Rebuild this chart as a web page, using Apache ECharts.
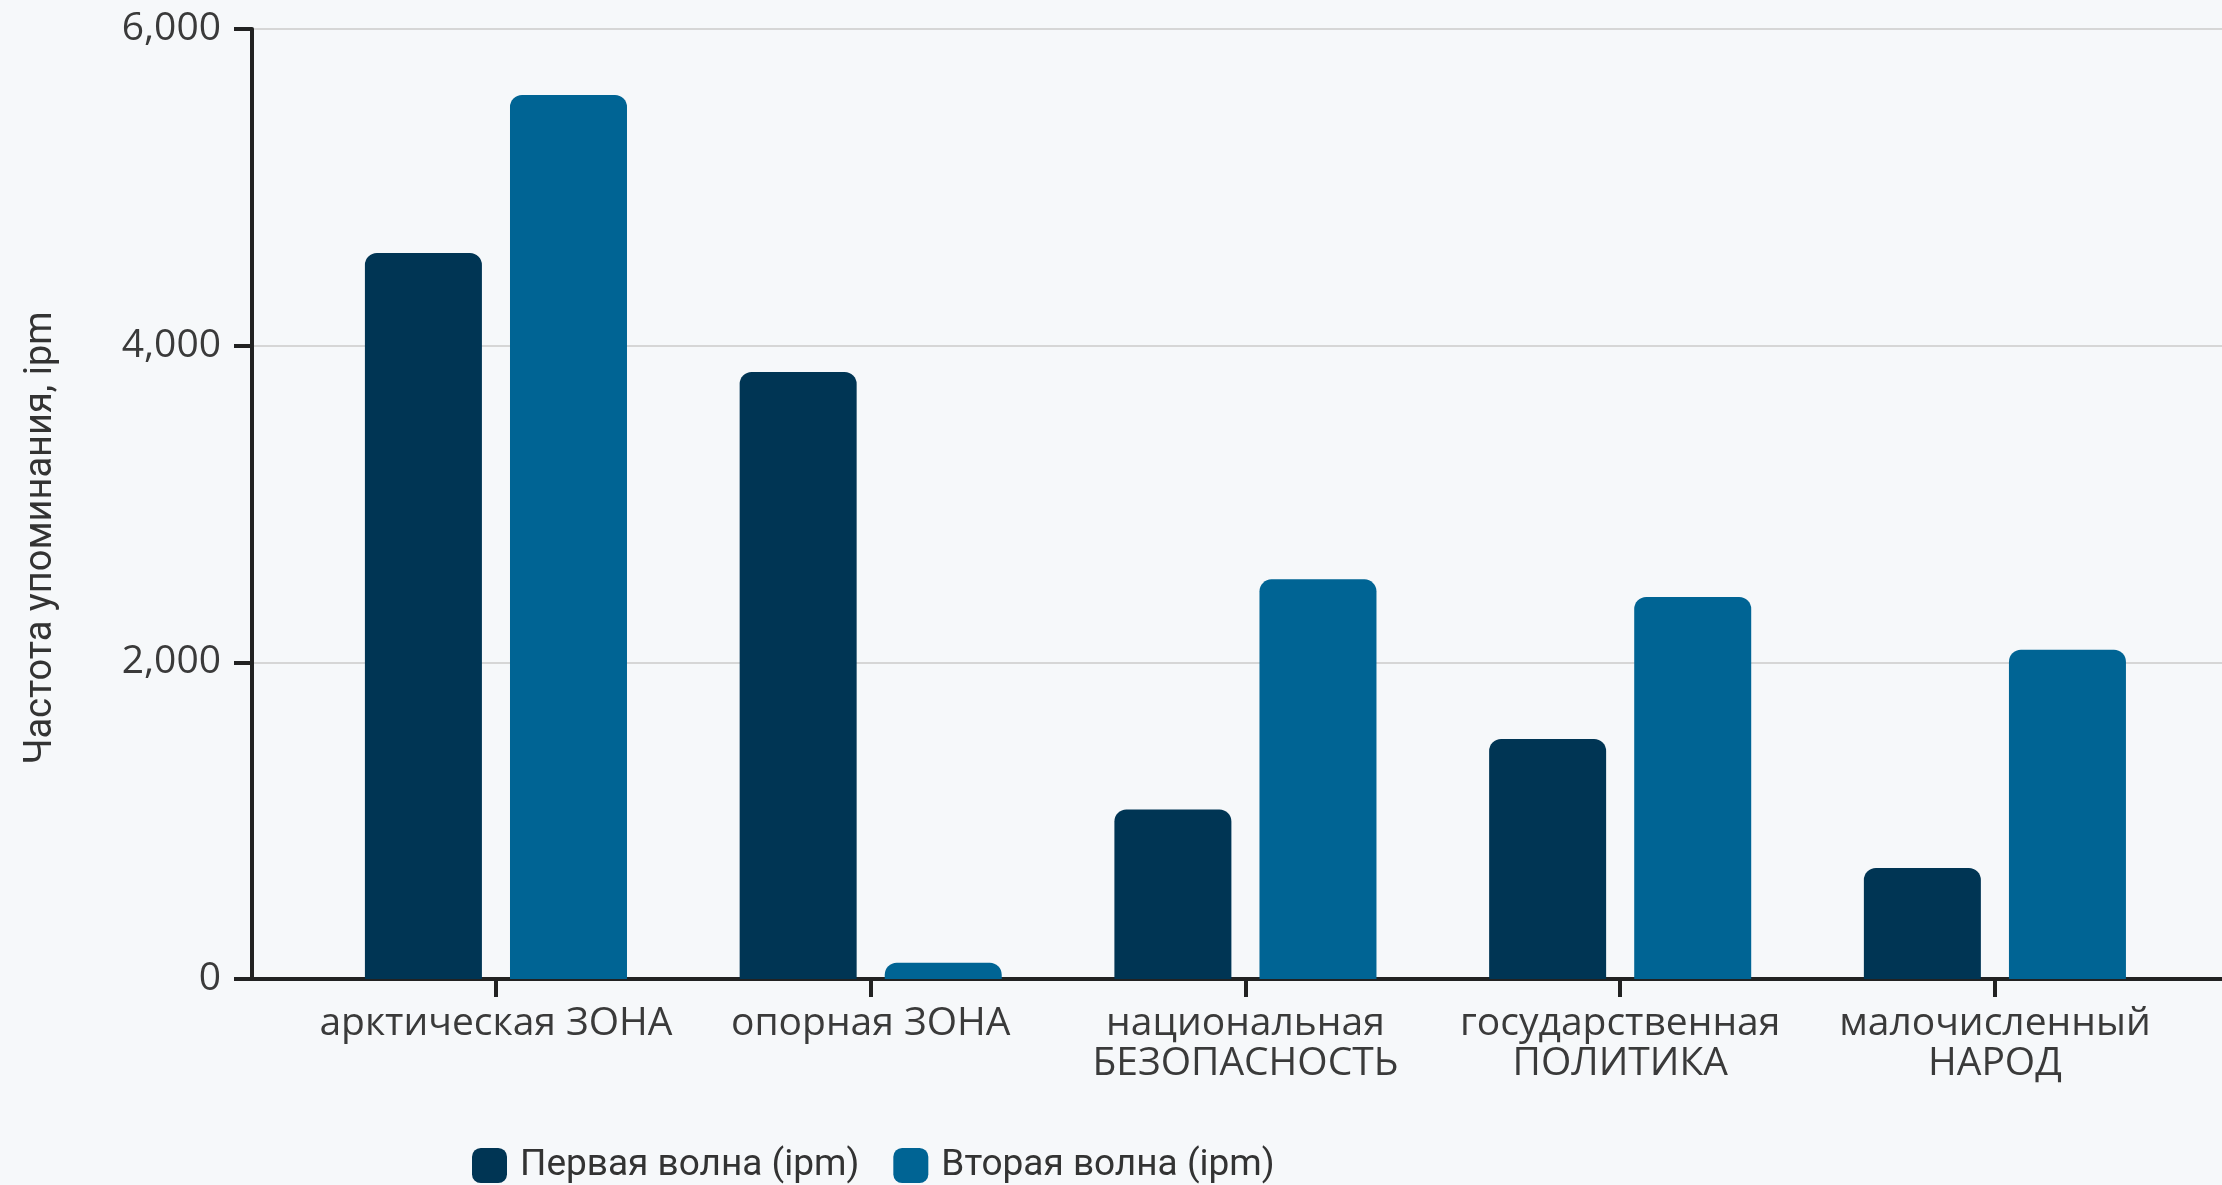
<!DOCTYPE html>
<html>
<head>
<meta charset="utf-8">
<script src="https://cdn.jsdelivr.net/npm/echarts@6/dist/echarts.min.js"></script>
<style>
  html, body { margin: 0; padding: 0; background: #f6f8fa; }
  #chart { width: 2222px; height: 1185px; }
</style>
</head>
<body>
<div id="chart"></div>
<script>
const categories = [
  'арктическая ЗОНА',
  'опорная ЗОНА',
  'национальная\nБЕЗОПАСНОСТЬ',
  'государственная\nПОЛИТИКА',
  'малочисленный\nНАРОД'
];
const wave1 = [4585, 3834, 1070, 1516, 701];
const wave2 = [5583, 103, 2524, 2413, 2080];
const seriesNames = ['Первая волна (ipm)', 'Вторая волна (ipm)'];
const yTicks = [0, 2000, 4000, 6000];
const yAxisName = 'Частота упоминания, ipm';

const catIdx = categories.map((c, i) => i);
const chart = echarts.init(document.getElementById('chart'));
const dark = '#222222';
chart.setOption({
  backgroundColor: '#f6f8fa',
  animation: false,
  grid: { left: 252, right: 0, top: 29, bottom: 206, outerBoundsMode: 'none' },
  legend: {
    left: 467, top: 1142,
    itemWidth: 35, itemHeight: 35, itemGap: 34,
    icon: 'roundRect',
    textStyle: { fontFamily: 'Roboto', fontSize: 37, color: '#333333', padding: [0, 0, 0, 8] },
    data: seriesNames
  },
  xAxis: {
    type: 'value',
    min: -0.651, max: 4.606,
    splitLine: { show: false },
    axisLine: { show: true, lineStyle: { color: dark, width: 4 } },
    axisTick: { show: true, customValues: catIdx, length: 18, lineStyle: { color: dark, width: 4 } },
    axisLabel: {
      customValues: catIdx,
      formatter: v => categories[Math.round(v)],
      fontFamily: 'Open Sans', fontSize: 39, lineHeight: 40, color: '#3a3a3a', margin: 25
    }
  },
  yAxis: {
    type: 'value',
    min: yTicks[0], max: yTicks[yTicks.length - 1], interval: 2000,
    name: yAxisName,
    nameLocation: 'middle',
    nameGap: 192,
    nameTextStyle: { fontFamily: 'Roboto', fontSize: 38, color: '#333333', padding: [0, 68, 0, 0] },
    axisLine: { show: true, onZero: false, lineStyle: { color: dark, width: 4 } },
    axisTick: { show: true, length: 18, lineStyle: { color: dark, width: 4 } },
    axisLabel: {
      formatter: v => v.toLocaleString('en-US'),
      fontFamily: 'Open Sans', fontSize: 39, color: '#3a3a3a', margin: 31
    },
    splitLine: { show: true, lineStyle: { color: '#d6d6d6', width: 2 } }
  },
  series: [
    {
      name: seriesNames[0], type: 'bar',
      barWidth: 117, barGap: '24%',
      itemStyle: { color: '#003554', borderRadius: [12, 12, 0, 0] },
      data: wave1.map((v, i) => [catIdx[i], v])
    },
    {
      name: seriesNames[1], type: 'bar',
      barWidth: 117, barGap: '24%',
      itemStyle: { color: '#006494', borderRadius: [12, 12, 0, 0] },
      data: wave2.map((v, i) => [catIdx[i], v])
    }
  ]
});
</script>
</body>
</html>
